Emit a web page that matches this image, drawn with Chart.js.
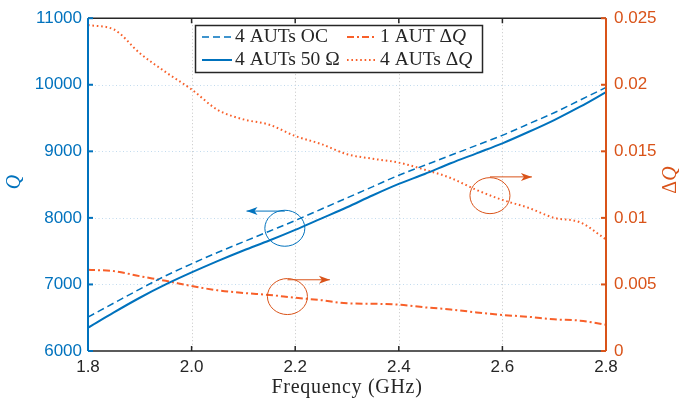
<!DOCTYPE html>
<html>
<head>
<meta charset="utf-8">
<script src="https://cdn.jsdelivr.net/npm/chart.js@4.4.1/dist/chart.umd.min.js"></script>
<style>
  html, body { margin: 0; padding: 0; background: #fff; }
  #wrap { width: 682px; height: 408px; position: relative; }
</style>
</head>
<body>
<div id="wrap"><canvas id="qChart"></canvas></div>
<script>
// frequency grid (GHz)
const freq = [1.80, 1.85, 1.90, 1.95, 2.00, 2.05, 2.10, 2.15, 2.20, 2.25, 2.30,
              2.35, 2.40, 2.45, 2.50, 2.55, 2.60, 2.65, 2.70, 2.75, 2.80];

// Q values (left axis)
const qOpen = [6510, 6720, 6930, 7130, 7310, 7480, 7640, 7800, 7960, 8130, 8300,
               8470, 8640, 8790, 8940, 9090, 9240, 9410, 9580, 9770, 9960];
const q50 = [6350, 6580, 6800, 7000, 7180, 7350, 7510, 7660, 7820, 7990, 8160,
             8340, 8510, 8660, 8820, 8970, 9120, 9290, 9470, 9670, 9890];

// delta Q values (right axis)
const dq1 = [0.00610, 0.00600, 0.00562, 0.00527, 0.00488, 0.00456, 0.00436, 0.00421, 0.00400, 0.00382, 0.00358,
             0.00355, 0.00348, 0.00328, 0.00312, 0.00290, 0.00271, 0.00257, 0.00238, 0.00228, 0.00198];
const dq4 = [0.02448, 0.02415, 0.02237, 0.02095, 0.01965, 0.01812, 0.01740, 0.01700, 0.01615, 0.01555, 0.01478,
             0.01444, 0.01415, 0.01362, 0.01300, 0.01210, 0.01135, 0.01076, 0.01000, 0.00967, 0.00838];

const seriesLabels = ['4 AUTs OC', '4 AUTs 50 Ω', '1 AUT ΔQ', '4 AUTs ΔQ'];

// annotation marks: [freq, value, arrow tip freq, arrow value, axis]
const marks = [
  [2.180, 7844, 2.106, 8102, 'y'],
  [2.185, 0.00409, 2.267, 0.00535, 'y2'],
  [2.576, 0.01167, 2.657, 0.01308, 'y2']
];

const blue = '#0072bd';
const axisOrange = '#d95319';
const lineOrange = '#f8602a';
const ink = '#262626';
const sans = '"Liberation Sans", Arial, sans-serif';
const serif = '"Liberation Serif", "Times New Roman", serif';

const pts = (ys) => freq.map((f, i) => ({ x: f, y: ys[i] }));

const frame = {
  id: 'frame',
  beforeDatasetsDraw(chart) {
    const { ctx, chartArea: a, scales } = chart;
    ctx.save();
    ctx.lineWidth = 1;
    ctx.setLineDash([1, 2.5]);
    ctx.strokeStyle = '#c6c6c6';
    scales.x.ticks.forEach((t) => {
      const px = Math.round(scales.x.getPixelForValue(t.value)) + 0.5;
      if (px <= a.left + 1 || px >= a.right - 1) return;
      ctx.beginPath(); ctx.moveTo(px, a.top); ctx.lineTo(px, a.bottom); ctx.stroke();
    });
    ctx.strokeStyle = '#c2dbee';
    scales.y.ticks.forEach((t) => {
      const py = Math.round(scales.y.getPixelForValue(t.value)) + 0.5;
      if (py <= a.top + 1 || py >= a.bottom - 1) return;
      ctx.beginPath(); ctx.moveTo(a.left, py); ctx.lineTo(a.right, py); ctx.stroke();
    });
    ctx.restore();
  },
  afterDraw(chart) {
    const { ctx, chartArea: a, scales } = chart;
    ctx.save();
    ctx.setLineDash([]);
    // box
    ctx.lineWidth = 1.5;
    ctx.strokeStyle = ink;
    ctx.beginPath();
    ctx.moveTo(a.left, a.top); ctx.lineTo(a.right, a.top);
    ctx.moveTo(a.left, a.bottom); ctx.lineTo(a.right, a.bottom);
    ctx.stroke();
    scales.x.ticks.forEach((t) => {
      const px = scales.x.getPixelForValue(t.value);
      ctx.beginPath();
      ctx.moveTo(px, a.bottom); ctx.lineTo(px, a.bottom - 5);
      ctx.moveTo(px, a.top); ctx.lineTo(px, a.top + 5);
      ctx.stroke();
    });
    ctx.lineWidth = 2;
    ctx.strokeStyle = blue;
    ctx.beginPath(); ctx.moveTo(a.left, a.top); ctx.lineTo(a.left, a.bottom); ctx.stroke();
    scales.y.ticks.forEach((t) => {
      const py = scales.y.getPixelForValue(t.value);
      ctx.beginPath(); ctx.moveTo(a.left, py); ctx.lineTo(a.left + 5, py); ctx.stroke();
    });
    ctx.strokeStyle = axisOrange;
    ctx.beginPath(); ctx.moveTo(a.right, a.top); ctx.lineTo(a.right, a.bottom); ctx.stroke();
    scales.y2.ticks.forEach((t) => {
      const py = scales.y2.getPixelForValue(t.value);
      ctx.beginPath(); ctx.moveTo(a.right, py); ctx.lineTo(a.right - 5, py); ctx.stroke();
    });

    // axis titles
    ctx.fillStyle = ink;
    ctx.font = '20px ' + serif;
    ctx.textAlign = 'center';
    ctx.textBaseline = 'middle';
    ctx.letterSpacing = '0.7px';
    ctx.fillText('Frequency (GHz)', (a.left + a.right) / 2, 388);
    ctx.letterSpacing = '0px';

    ctx.save();
    ctx.translate(15, 182);
    ctx.rotate(-Math.PI / 2);
    ctx.fillStyle = blue;
    ctx.font = 'italic 20px ' + serif;
    ctx.fillText('Q', 0, 0);
    ctx.restore();

    ctx.save();
    ctx.translate(671, 180);
    ctx.rotate(-Math.PI / 2);
    ctx.fillStyle = axisOrange;
    ctx.textAlign = 'left';
    ctx.font = '20px ' + serif;
    const dw = ctx.measureText('Δ').width;
    ctx.font = 'italic 20px ' + serif;
    const qw = ctx.measureText('Q').width;
    ctx.font = '20px ' + serif;
    ctx.fillText('Δ', -(dw + qw) / 2, 0);
    ctx.font = 'italic 20px ' + serif;
    ctx.fillText('Q', -(dw + qw) / 2 + dw, 0);
    ctx.restore();

    // circles with arrows
    marks.forEach(([f, v, tipF, arrV, axis]) => {
      const col = axis === 'y' ? blue : axisOrange;
      const cx = scales.x.getPixelForValue(f);
      const cy = scales[axis].getPixelForValue(v);
      const ay = scales[axis].getPixelForValue(arrV);
      const tx = scales.x.getPixelForValue(tipF);
      ctx.strokeStyle = col;
      ctx.fillStyle = col;
      ctx.lineWidth = 1;
      ctx.beginPath(); ctx.ellipse(cx, cy, 20, 18, 0, 0, Math.PI * 2); ctx.stroke();
      ctx.beginPath(); ctx.moveTo(cx, ay); ctx.lineTo(tx, ay); ctx.stroke();
      const dir = tx < cx ? -1 : 1;
      ctx.beginPath();
      ctx.moveTo(tx, ay);
      ctx.lineTo(tx - dir * 11, ay - 4);
      ctx.lineTo(tx - dir * 8, ay);
      ctx.lineTo(tx - dir * 11, ay + 4);
      ctx.closePath();
      ctx.fill();
    });

    // legend
    const lx = 195.5, ly = 25.5, lw = 287, lh = 47;
    ctx.fillStyle = '#fff';
    ctx.fillRect(lx, ly, lw, lh);
    ctx.strokeStyle = ink;
    ctx.lineWidth = 1.5;
    ctx.strokeRect(lx, ly, lw, lh);
    const slots = [[202, 37], [202, 60], [347, 37], [347, 60]];
    chart.data.datasets.forEach((ds, i) => {
      const [sx, sy] = slots[i];
      ctx.strokeStyle = ds.borderColor;
      ctx.lineWidth = ds.borderWidth;
      ctx.setLineDash(ds.borderDash || []);
      ctx.beginPath(); ctx.moveTo(sx, sy); ctx.lineTo(sx + 30, sy); ctx.stroke();
      ctx.setLineDash([]);
      ctx.fillStyle = ink;
      ctx.textAlign = 'left';
      ctx.textBaseline = 'middle';
      const label = ds.label;
      ctx.font = '19.5px ' + serif;
      if (label.endsWith('ΔQ')) {
        const head = label.slice(0, label.length - 1);
        ctx.fillText(head, sx + 33, sy);
        const hw = ctx.measureText(head).width;
        ctx.font = 'italic 19.5px ' + serif;
        ctx.fillText('Q', sx + 33 + hw, sy);
      } else {
        ctx.fillText(label, sx + 33, sy);
      }
    });
    ctx.restore();
  }
};

new Chart(document.getElementById('qChart'), {
  type: 'line',
  data: {
    datasets: [
      { label: seriesLabels[0], data: pts(qOpen), yAxisID: 'y', borderColor: blue, borderWidth: 1.5, borderDash: [7, 4] },
      { label: seriesLabels[1], data: pts(q50), yAxisID: 'y', borderColor: blue, borderWidth: 2 },
      { label: seriesLabels[2], data: pts(dq1), yAxisID: 'y2', borderColor: lineOrange, borderWidth: 2, borderDash: [7, 3, 2, 3] },
      { label: seriesLabels[3], data: pts(dq4), yAxisID: 'y2', borderColor: lineOrange, borderWidth: 2, borderDash: [1.6, 2.8] }
    ]
  },
  options: {
    responsive: true,
    maintainAspectRatio: false,
    animation: false,
    layout: { padding: { top: 15, left: 0, right: 0, bottom: 0 } },
    elements: { point: { radius: 0 }, line: { cubicInterpolationMode: 'monotone', fill: false } },
    plugins: { legend: { display: false }, tooltip: { enabled: false } },
    scales: {
      x: {
        type: 'linear', min: 1.8, max: 2.8,
        ticks: { stepSize: 0.2, color: ink, font: { family: sans, size: 17 }, padding: 6, maxRotation: 0 },
        grid: { display: false, drawTicks: false },
        border: { display: false },
        afterFit: (s) => { s.height = 57; }
      },
      y: {
        position: 'left', min: 6000, max: 11000,
        ticks: { stepSize: 1000, color: blue, font: { family: sans, size: 17 }, padding: 6,
                 callback: (v) => String(v) },
        grid: { display: false, drawTicks: false },
        border: { display: false },
        afterFit: (s) => { s.width = 88; }
      },
      y2: {
        position: 'right', min: 0, max: 0.025,
        ticks: { stepSize: 0.005, color: axisOrange, font: { family: sans, size: 17 }, padding: 8,
                 callback: (v) => (v === 0 ? '0' : String(+v.toFixed(3))) },
        grid: { display: false, drawTicks: false },
        border: { display: false },
        afterFit: (s) => { s.width = 76; }
      }
    }
  },
  plugins: [frame]
});
</script>
</body>
</html>
